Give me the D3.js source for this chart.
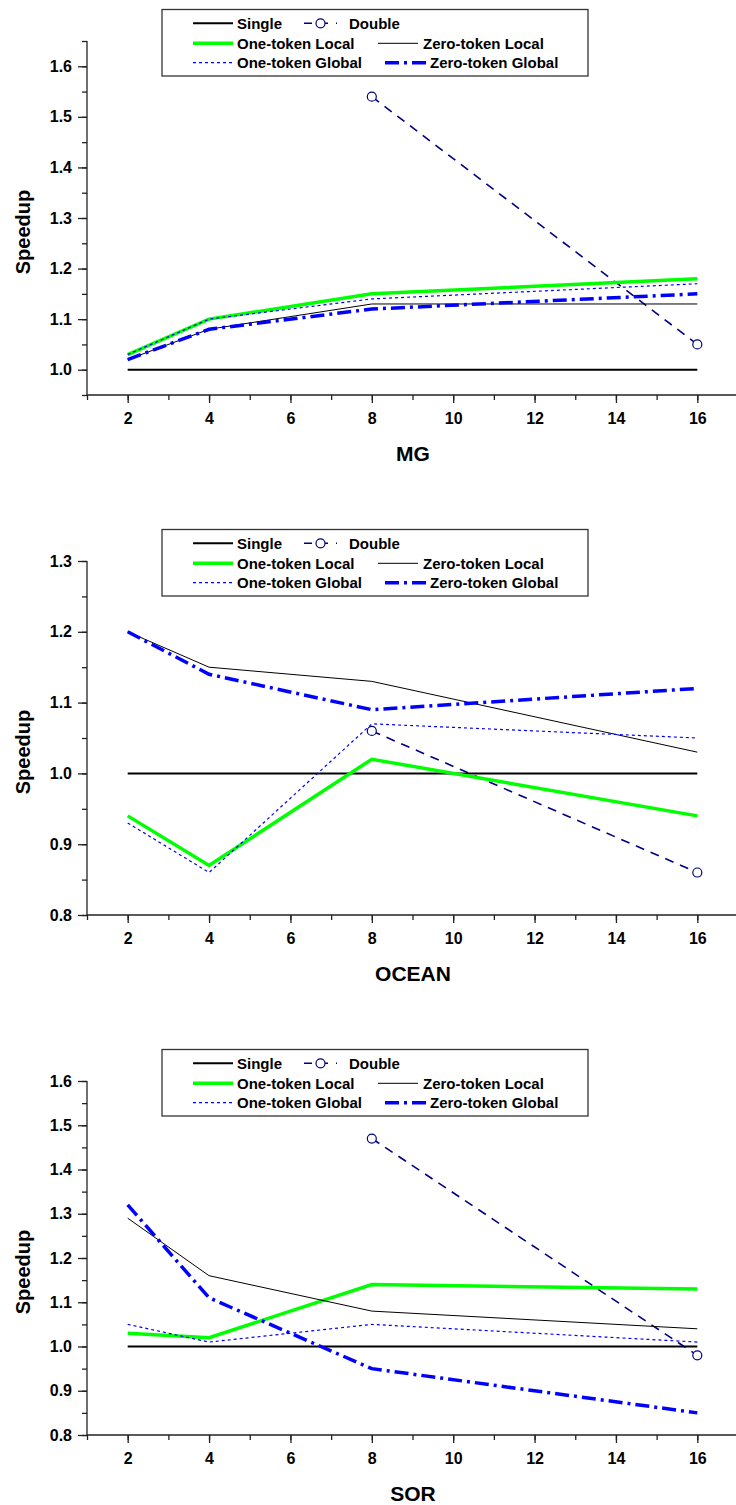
<!DOCTYPE html>
<html>
<head>
<meta charset="utf-8">
<script src="https://cdn.jsdelivr.net/npm/d3@7"></script>
<style>
  body { margin: 0; background: #fff; }
  svg text { font-family: "Liberation Sans", Arial, sans-serif; font-weight: bold; fill: #000; }
</style>
</head>
<body>
<div id="chart"></div>
<script>
// processors on the x axis
var procs = [2, 4, 8, 16];
var seriesNames = ["Single", "Double", "One-token Local", "Zero-token Local", "One-token Global", "Zero-token Global"];

// MG
var mgSingle     = [1.00, 1.00, 1.00, 1.00];
var mgDouble     = [null, null, 1.54, 1.05];
var mgOneLocal   = [1.03, 1.10, 1.15, 1.18];
var mgZeroLocal  = [1.02, 1.08, 1.13, 1.13];
var mgOneGlobal  = [1.03, 1.10, 1.14, 1.17];
var mgZeroGlobal = [1.02, 1.08, 1.12, 1.15];

// OCEAN
var oceanSingle     = [1.00, 1.00, 1.00, 1.00];
var oceanDouble     = [null, null, 1.06, 0.86];
var oceanOneLocal   = [0.94, 0.87, 1.02, 0.94];
var oceanZeroLocal  = [1.20, 1.15, 1.13, 1.03];
var oceanOneGlobal  = [0.93, 0.86, 1.07, 1.05];
var oceanZeroGlobal = [1.20, 1.14, 1.09, 1.12];

// SOR
var sorSingle     = [1.00, 1.00, 1.00, 1.00];
var sorDouble     = [null, null, 1.47, 0.98];
var sorOneLocal   = [1.03, 1.02, 1.14, 1.13];
var sorZeroLocal  = [1.29, 1.16, 1.08, 1.04];
var sorOneGlobal  = [1.05, 1.01, 1.05, 1.01];
var sorZeroGlobal = [1.32, 1.11, 0.95, 0.85];

var xTicks = [2, 4, 6, 8, 10, 12, 14, 16];
var mgYTicks = [1.0, 1.1, 1.2, 1.3, 1.4, 1.5, 1.6];
var oceanYTicks = [0.8, 0.9, 1.0, 1.1, 1.2, 1.3];
var sorYTicks = [0.8, 0.9, 1.0, 1.1, 1.2, 1.3, 1.4, 1.5, 1.6];

var panels = [
  {title: "MG", ymin: 0.95, ymax: 1.65, ticks: mgYTicks,
   data: [mgSingle, mgDouble, mgOneLocal, mgZeroLocal, mgOneGlobal, mgZeroGlobal]},
  {title: "OCEAN", ymin: 0.8, ymax: 1.3, ticks: oceanYTicks,
   data: [oceanSingle, oceanDouble, oceanOneLocal, oceanZeroLocal, oceanOneGlobal, oceanZeroGlobal]},
  {title: "SOR", ymin: 0.8, ymax: 1.6, ticks: sorYTicks,
   data: [sorSingle, sorDouble, sorOneLocal, sorZeroLocal, sorOneGlobal, sorZeroGlobal]}
];

var styles = {
  "Single":            {color: "#000",    w: 2,   dash: null},
  "Double":            {color: "#000080", w: 1.6, dash: "9,7", circle: true},
  "One-token Local":   {color: "#00ff00", w: 3.5, dash: null},
  "Zero-token Local":  {color: "#000",    w: 1,   dash: null},
  "One-token Global":  {color: "#0000ff", w: 1.2, dash: "3,3"},
  "Zero-token Global": {color: "#0000ff", w: 3.5, dash: "14,5,3,5"}
};

// legend layout: [row, line x0, line x1, text x]
var legendPos = {
  "Single":            [0, 193, 233, 237],
  "Double":            [0, 304, 337, 349],
  "One-token Local":   [1, 193, 233, 237],
  "Zero-token Local":  [1, 378, 418, 423],
  "One-token Global":  [2, 193, 233, 237],
  "Zero-token Global": [2, 385, 427, 430]
};

var W = 736, H = 1505, panelH = 520;
var plotTop = 41, plotBottom = 395, left = 87;

var svg = d3.select("#chart").append("svg")
  .attr("width", W).attr("height", H);

var x = d3.scaleLinear().domain([1, 17]).range([left, 738]);

panels.forEach(function(p, i) {
  var g = svg.append("g").attr("transform", "translate(0," + (i * panelH) + ")");
  var y = d3.scaleLinear().domain([p.ymin, p.ymax]).range([plotBottom, plotTop]);

  // minor ticks
  var minorY = d3.range(Math.round(p.ymin * 20), Math.round(p.ymax * 20) + 1).map(function(d) { return d / 20; });
  g.append("g").attr("class", "axis")
    .attr("transform", "translate(" + left + ",0)")
    .call(d3.axisLeft(y).tickValues(minorY).tickSize(5).tickFormat(""));
  g.append("g").attr("class", "axis")
    .attr("transform", "translate(0," + plotBottom + ")")
    .call(d3.axisBottom(x).tickValues(d3.range(1, 18)).tickSize(5).tickFormat(""));

  // major ticks
  g.append("g").attr("class", "axis")
    .attr("transform", "translate(" + left + ",0)")
    .call(d3.axisLeft(y).tickValues(p.ticks).tickSize(9).tickPadding(6).tickFormat(d3.format(".1f")))
    .selectAll("text").style("font-size", "16px");
  g.append("g").attr("class", "axis")
    .attr("transform", "translate(0," + plotBottom + ")")
    .call(d3.axisBottom(x).tickValues(xTicks).tickSize(8).tickPadding(10).tickFormat(d3.format("d")))
    .selectAll("text").style("font-size", "16px");

  g.selectAll(".axis path, .axis line").attr("stroke", "#222").attr("stroke-width", 1.3);
  g.selectAll(".axis .domain").attr("d", null);
  g.selectAll(".axis text").attr("fill", "#000").attr("font-family", null);

  // axis lines
  g.append("line").attr("x1", left).attr("x2", left).attr("y1", plotTop).attr("y2", plotBottom)
    .attr("stroke", "#222").attr("stroke-width", 1.3);
  g.append("line").attr("x1", left).attr("x2", x(17)).attr("y1", plotBottom).attr("y2", plotBottom)
    .attr("stroke", "#222").attr("stroke-width", 1.3);

  // titles
  g.append("text").attr("x", 413).attr("y", 461).attr("text-anchor", "middle")
    .style("font-size", "21px").text(p.title);
  g.append("text").attr("transform", "translate(30,232) rotate(-90)").attr("text-anchor", "middle")
    .style("font-size", "20px").text("Speedup");

  // series
  seriesNames.forEach(function(name, k) {
    var s = styles[name];
    var pts = procs.map(function(d, j) { return {x: d, v: p.data[k][j]}; })
      .filter(function(d) { return d.v !== null; });
    var line = d3.line().x(function(d) { return x(d.x); }).y(function(d) { return y(d.v); });
    g.append("path").datum(pts)
      .attr("d", line)
      .attr("fill", "none")
      .attr("stroke", s.color)
      .attr("stroke-width", s.w)
      .attr("stroke-dasharray", s.dash);
    if (s.circle) {
      g.selectAll(null).data(pts).enter().append("circle")
        .attr("cx", function(d) { return x(d.x); })
        .attr("cy", function(d) { return y(d.v); })
        .attr("r", 4.5)
        .attr("fill", "#fff")
        .attr("stroke", s.color)
        .attr("stroke-width", 1.2);
    }
  });

  // legend
  var lg = g.append("g");
  lg.append("rect").attr("x", 162).attr("y", 9.5).attr("width", 426).attr("height", 66.5)
    .attr("fill", "#fff").attr("stroke", "#333").attr("stroke-width", 1.3);
  var rowY = [23.3, 43.3, 62.7];
  seriesNames.forEach(function(name) {
    var s = styles[name], lp = legendPos[name], yy = rowY[lp[0]];
    lg.append("line").attr("x1", lp[1]).attr("x2", lp[2]).attr("y1", yy).attr("y2", yy)
      .attr("stroke", s.color).attr("stroke-width", s.w)
      .attr("stroke-dasharray", s.dash ? (name === "Double" ? "8,8" : s.dash) : null);
    if (s.circle) {
      lg.append("circle").attr("cx", (lp[1] + lp[2]) / 2).attr("cy", yy).attr("r", 4.5)
        .attr("fill", "#fff").attr("stroke", s.color).attr("stroke-width", 1.2);
    }
    lg.append("text").attr("x", lp[3]).attr("y", yy).attr("dy", "0.36em")
      .style("font-size", "15px").text(name);
  });
});
</script>
</body>
</html>
